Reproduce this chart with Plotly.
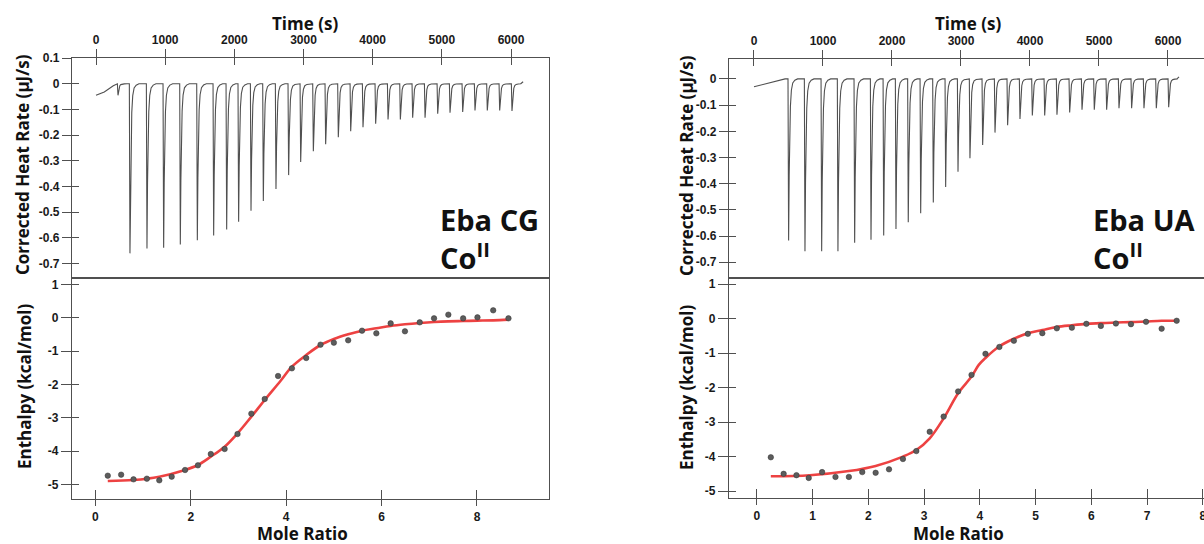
import plotly.graph_objects as go

W, H = 1204, 544

# ---------------- data: Eba CG / Co(II)  (left) ----------------
cg_pre_t = [0, 120, 250, 300]
cg_pre_v = [-0.045, -0.032, -0.008, 0.0]
cg_inj_t = [318, 491, 737, 978, 1219, 1465, 1701, 1889, 2062, 2241, 2419, 2602, 2785,
            2959, 3142, 3320, 3503, 3682, 3860, 4043, 4222, 4400, 4578, 4757, 4940,
            5118, 5301, 5479, 5657, 5836, 6014]
cg_inj_peak = [-0.045, -0.661, -0.642, -0.639, -0.626, -0.610, -0.591, -0.568, -0.538,
               -0.495, -0.457, -0.410, -0.356, -0.305, -0.263, -0.236, -0.208, -0.185,
               -0.169, -0.156, -0.139, -0.139, -0.132, -0.132, -0.117, -0.113, -0.110,
               -0.104, -0.104, -0.104, -0.106]
cg_end_t = [6140, 6175]
cg_end_v = [0.0, 0.008]

cg_ratio = [0.26, 0.54, 0.80, 1.08, 1.34, 1.60, 1.88, 2.15, 2.42, 2.71, 2.98, 3.27,
            3.55, 3.83, 4.12, 4.42, 4.72, 5.00, 5.30, 5.59, 5.89, 6.19, 6.49, 6.80,
            7.10, 7.40, 7.71, 8.01, 8.34, 8.66]
cg_dh = [-4.74, -4.71, -4.85, -4.83, -4.88, -4.77, -4.57, -4.43, -4.09, -3.94, -3.49,
         -2.88, -2.44, -1.75, -1.52, -1.21, -0.81, -0.75, -0.68, -0.39, -0.47, -0.17,
         -0.41, -0.14, -0.02, 0.09, -0.02, 0.01, 0.22, -0.02]
cg_fit_x = [0.26, 0.80, 1.34, 1.88, 2.15, 2.42, 2.71, 2.98, 3.27, 3.55, 3.88, 4.12,
            4.42, 4.72, 5.00, 5.30, 5.59, 5.89, 6.19, 6.49, 6.80, 7.10, 7.40, 7.71,
            8.01, 8.34, 8.66]
cg_fit_y = [-4.90, -4.87, -4.77, -4.57, -4.42, -4.17, -3.87, -3.47, -2.97, -2.47,
            -1.90, -1.47, -1.12, -0.82, -0.64, -0.50, -0.39, -0.32, -0.25, -0.20,
            -0.16, -0.13, -0.11, -0.10, -0.09, -0.08, -0.06]

# ---------------- data: Eba UA / Co(II)  (right) ----------------
ua_pre_t = [0, 150, 300, 450]
ua_pre_v = [-0.030, -0.020, -0.008, 0.0]
ua_inj_t = [502, 739, 981, 1217, 1459, 1696, 1880, 2058, 2236, 2416, 2599, 2778, 2957,
            3130, 3314, 3493, 3676, 3855, 4034, 4213, 4391, 4575, 4754, 4932, 5111,
            5290, 5473, 5652, 5831, 6010]
ua_inj_peak = [-0.617, -0.658, -0.658, -0.658, -0.625, -0.614, -0.598, -0.573, -0.547,
               -0.513, -0.472, -0.413, -0.354, -0.303, -0.252, -0.205, -0.177, -0.153,
               -0.140, -0.140, -0.137, -0.128, -0.118, -0.118, -0.118, -0.112, -0.112,
               -0.112, -0.112, -0.108]
ua_end_t = [6130, 6160]
ua_end_v = [0.0, 0.008]

ua_ratio = [0.25, 0.48, 0.71, 0.93, 1.17, 1.41, 1.65, 1.89, 2.13, 2.37, 2.62, 2.86,
            3.10, 3.35, 3.61, 3.85, 4.10, 4.35, 4.61, 4.86, 5.12, 5.38, 5.65, 5.91,
            6.17, 6.44, 6.71, 6.98, 7.26, 7.53]
ua_dh = [-4.02, -4.50, -4.54, -4.62, -4.45, -4.59, -4.59, -4.45, -4.47, -4.37, -4.07,
         -3.84, -3.28, -2.84, -2.11, -1.63, -1.02, -0.82, -0.64, -0.44, -0.42, -0.28,
         -0.26, -0.15, -0.21, -0.14, -0.16, -0.09, -0.29, -0.06]
ua_fit_x = [0.25, 0.95, 1.65, 2.13, 2.62, 2.86, 3.10, 3.35, 3.61, 3.85, 3.98, 4.10,
            4.35, 4.61, 4.86, 5.12, 5.38, 5.65, 5.91, 6.17, 6.44, 6.71, 6.98, 7.26, 7.53]
ua_fit_y = [-4.57, -4.54, -4.42, -4.27, -4.00, -3.81, -3.47, -2.89, -2.16, -1.68,
            -1.34, -1.14, -0.80, -0.58, -0.42, -0.33, -0.24, -0.19, -0.15, -0.13,
            -0.11, -0.10, -0.08, -0.06, -0.06]

# ---------------- tick labels ----------------
time_ticks = [0, 1000, 2000, 3000, 4000, 5000, 6000]
time_text = ["0", "1000", "2000", "3000", "4000", "5000", "6000"]
rate_ticks_cg = [0.1, 0, -0.1, -0.2, -0.3, -0.4, -0.5, -0.6, -0.7]
rate_text_cg = ["0.1", "0", "-0.1", "-0.2", "-0.3", "-0.4", "-0.5", "-0.6", "-0.7"]
rate_ticks_ua = [0, -0.1, -0.2, -0.3, -0.4, -0.5, -0.6, -0.7]
rate_text_ua = ["0", "-0.1", "-0.2", "-0.3", "-0.4", "-0.5", "-0.6", "-0.7"]
dh_ticks = [1, 0, -1, -2, -3, -4, -5]
dh_text = ["1", "0", "-1", "-2", "-3", "-4", "-5"]
ratio_ticks_cg = [0, 2, 4, 6, 8]
ratio_ticks_ua = [0, 1, 2, 3, 4, 5, 6, 7, 8]

# injection peak shape (time offset from peak, fraction of peak depth)
PEAK_DT = [-9, 0, 8, 16, 26, 40, 60, 90, 130]
PEAK_FRAC = [0.0, 1.0, 0.6, 0.34, 0.17, 0.07, 0.025, 0.008, 0.0]


def thermogram(pre_t, pre_v, inj_t, inj_v, end_t, end_v):
    xs, ys = list(pre_t), list(pre_v)
    for t, v in zip(inj_t, inj_v):
        for dt, f in zip(PEAK_DT, PEAK_FRAC):
            xs.append(t + dt)
            ys.append(v * f)
    xs += list(end_t)
    ys += list(end_v)
    return xs, ys


cg_tx, cg_ty = thermogram(cg_pre_t, cg_pre_v, cg_inj_t, cg_inj_peak, cg_end_t, cg_end_v)
ua_tx, ua_ty = thermogram(ua_pre_t, ua_pre_v, ua_inj_t, ua_inj_peak, ua_end_t, ua_end_v)

LINE_C = "#505050"
THERMO_C = "#505050"
FIT_C = "rgba(236,50,50,0.92)"
DOT_C = "#5c5c5c"

fig = go.Figure()

# thermograms
fig.add_trace(go.Scatter(x=cg_tx, y=cg_ty, mode="lines", xaxis="x", yaxis="y",
                         line=dict(color=THERMO_C, width=1.1)))
fig.add_trace(go.Scatter(x=ua_tx, y=ua_ty, mode="lines", xaxis="x3", yaxis="y3",
                         line=dict(color=THERMO_C, width=1.1)))
# fits
fig.add_trace(go.Scatter(x=cg_fit_x, y=cg_fit_y, mode="lines", xaxis="x2", yaxis="y2",
                         line=dict(color=FIT_C, width=2.6, shape="spline")))
fig.add_trace(go.Scatter(x=ua_fit_x, y=ua_fit_y, mode="lines", xaxis="x4", yaxis="y4",
                         line=dict(color=FIT_C, width=2.6, shape="spline")))
# points
fig.add_trace(go.Scatter(x=cg_ratio, y=cg_dh, mode="markers", xaxis="x2", yaxis="y2",
                         marker=dict(color=DOT_C, size=5.5, line=dict(color="#333", width=0.5))))
fig.add_trace(go.Scatter(x=ua_ratio, y=ua_dh, mode="markers", xaxis="x4", yaxis="y4",
                         marker=dict(color=DOT_C, size=5.5, line=dict(color="#333", width=0.5))))

# dummy traces so overlay tick axes exist
for xa, ya in [("x5", "y"), ("x6", "y2"), ("x7", "y3"), ("x8", "y4"),
               ("x", "y5"), ("x2", "y6"), ("x3", "y7"), ("x4", "y8")]:
    fig.add_trace(go.Scatter(x=[None], y=[None], xaxis=xa, yaxis=ya, mode="markers",
                             hoverinfo="skip"))

tickfont = dict(family="Liberation Sans, Arial", size=12, color="#1a1a1a", weight="bold")

XL = [72 / W, 549 / W]
XR = [729 / W, 1.0]
YT_L = [1 - 278 / H, 1 - 58 / H]
YB_L = [1 - 499 / H, 1 - 278 / H]
YT_R = [1 - 278 / H, 1 - 59 / H]
YB_R = [1 - 498.3 / H, 1 - 278 / H]

rng = dict(
    x=[-347, 6549], x2=[-0.49, 9.51], x3=[-362, 6522], x4=[-0.5, 8.02],
    y=[-0.757, 0.1005], y2=[-5.44, 1.19], y3=[-0.76, 0.076], y4=[-5.21, 1.18],
)


def main_axis(dom, r, anchor, side, tv, tt, mirror, ticklen):
    return dict(domain=dom, range=r, anchor=anchor, side=side, tickmode="array",
                tickvals=tv, ticktext=tt, ticks="outside", ticklen=ticklen, tickwidth=1.2,
                tickcolor=LINE_C, showline=True, linecolor=LINE_C, linewidth=1.3,
                mirror=mirror, showgrid=False, zeroline=False, tickfont=tickfont,
                ticklabeloverflow="allow", fixedrange=True)


def overlay_axis(over, dom, r, anchor, side, tv, ticklen):
    return dict(overlaying=over, domain=dom, range=r, anchor=anchor, side=side,
                tickmode="array", tickvals=tv, ticks="inside", ticklen=ticklen,
                tickwidth=1.2, tickcolor=LINE_C, showticklabels=False, showline=False,
                showgrid=False, zeroline=False)


fig.update_layout(
    width=W, height=H, margin=dict(l=0, r=0, t=0, b=0),
    paper_bgcolor="white", plot_bgcolor="white", showlegend=False,
    template="none",
    xaxis=main_axis(XL, rng["x"], "y", "top", time_ticks, time_text, True, 8),
    yaxis=main_axis(YT_L, rng["y"], "x", "left", rate_ticks_cg, rate_text_cg, True, 9),
    xaxis2=main_axis(XL, rng["x2"], "y2", "bottom", ratio_ticks_cg,
                     [str(v) for v in ratio_ticks_cg], True, 6),
    yaxis2=main_axis(YB_L, rng["y2"], "x2", "left", dh_ticks, dh_text, True, 10),
    xaxis3=main_axis(XR, rng["x3"], "y3", "top", time_ticks, time_text, True, 8),
    yaxis3=main_axis(YT_R, rng["y3"], "x3", "left", rate_ticks_ua, rate_text_ua, False, 9),
    xaxis4=main_axis(XR, rng["x4"], "y4", "bottom", ratio_ticks_ua,
                     [str(v) for v in ratio_ticks_ua], True, 6),
    yaxis4=main_axis(YB_R, rng["y4"], "x4", "left", dh_ticks, dh_text, False, 10),
    xaxis5=overlay_axis("x", XL, rng["x"], "y", "top", time_ticks, 7),
    xaxis6=overlay_axis("x2", XL, rng["x2"], "y2", "bottom", ratio_ticks_cg, 9),
    xaxis7=overlay_axis("x3", XR, rng["x3"], "y3", "top", time_ticks, 7),
    xaxis8=overlay_axis("x4", XR, rng["x4"], "y4", "bottom", ratio_ticks_ua, 9),
    yaxis5=overlay_axis("y", YT_L, rng["y"], "x", "left", rate_ticks_cg, 7),
    yaxis6=overlay_axis("y2", YB_L, rng["y2"], "x2", "left", dh_ticks, 7),
    yaxis7=overlay_axis("y3", YT_R, rng["y3"], "x3", "left", rate_ticks_ua, 7),
    yaxis8=overlay_axis("y4", YB_R, rng["y4"], "x4", "left", dh_ticks, 7),
)

title_font = dict(family="Open Sans", size=17, color="#111", weight="bold")
big_font = dict(family="Open Sans", size=29, color="#111", weight="bold")


def ann(text, xp, yp, font, angle=0, xanchor="center", yanchor="middle", align="center"):
    fig.add_annotation(text=text, x=xp / W, y=1 - yp / H, xref="paper", yref="paper",
                       showarrow=False, font=font, textangle=angle, align=align,
                       xanchor=xanchor, yanchor=yanchor, borderpad=0)


# axis titles
ann("Time (s)", 305, 24, title_font)
ann("Time (s)", 968, 24, title_font)
ann("Mole Ratio", 302, 533, title_font)
ann("Mole Ratio", 958, 533, title_font)
ann("Corrected Heat Rate (µJ/s)", 23, 165, title_font, angle=-90)
ann("Corrected Heat Rate (µJ/s)", 686, 166, title_font, angle=-90)
ann("Enthalpy (kcal/mol)", 24, 387, title_font, angle=-90)
ann("Enthalpy (kcal/mol)", 686, 388, title_font, angle=-90)

# sample labels
ann("Eba CG<br>Co<sup>II</sup>", 439, 238, big_font, xanchor="left", align="left")
ann("Eba UA<br>Co<sup>II</sup>", 1092, 238, big_font, xanchor="left", align="left")

fig.write_html("out.html")
